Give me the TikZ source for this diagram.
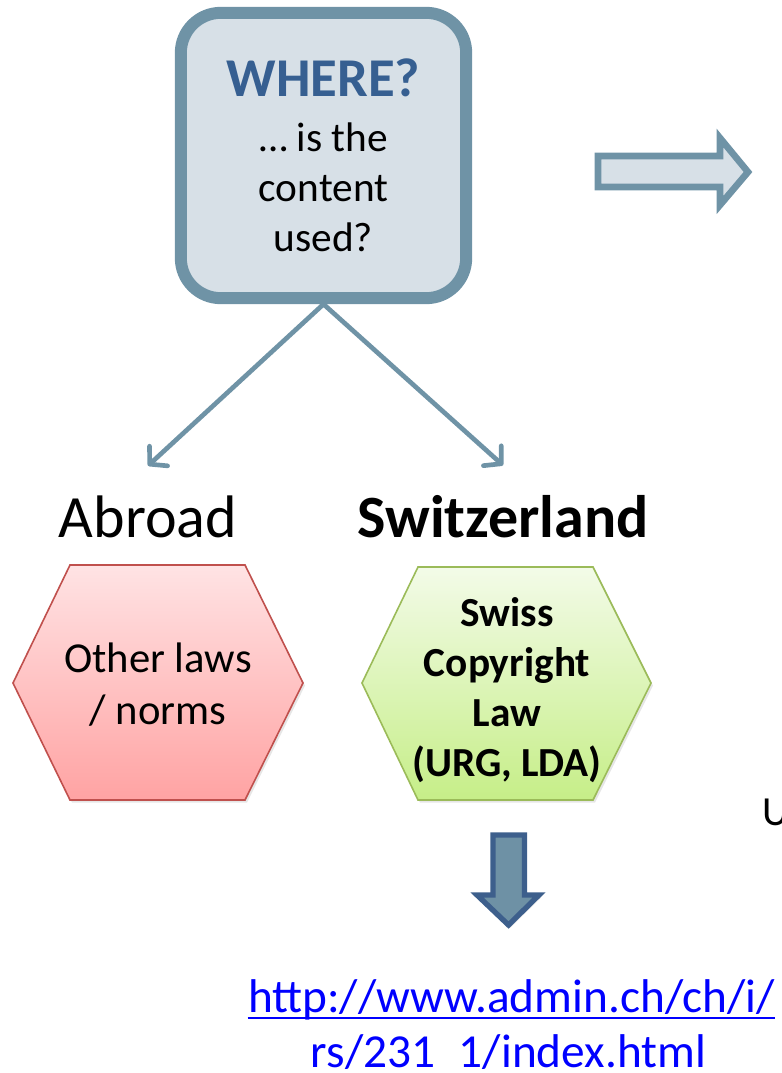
\documentclass[tikz,border=0pt]{standalone}
\usepackage{fontspec}
\setmainfont{Carlito}
\usepackage{tikz}
\usetikzlibrary{arrows.meta, shadows}

\definecolor{boxfill}{HTML}{D7E0E7}
\definecolor{boxline}{HTML}{6F93A6}
\definecolor{wheretext}{HTML}{365F91}
\definecolor{redtop}{HTML}{FFE3E4}
\definecolor{redbot}{HTML}{FFA3A3}
\definecolor{redline}{HTML}{C0504D}
\definecolor{greentop}{HTML}{F3FBE8}
\definecolor{greenbot}{HTML}{C6EE88}
\definecolor{greenline}{HTML}{9BBB59}
\definecolor{downfill}{HTML}{6E91A5}
\definecolor{downline}{HTML}{3D5F8C}
\definecolor{linkblue}{HTML}{0000FF}

\begin{document}
\begin{tikzpicture}[x=0.75pt, y=-0.75pt,
    question/.style={draw=boxline, fill=boxfill, line width=9pt, rounded corners=30pt,
      minimum width=214pt, minimum height=214pt, align=center, inner sep=0pt,
      font=\fontsize{31}{37.5}\selectfont},
    branch/.style={draw=boxline, line width=3.5pt, -{Straight Barb[length=9pt,width=20pt,round]}},
    place/.style={inner xsep=0pt, inner ysep=22pt, anchor=base, font=\fontsize{45}{54}\selectfont},
    lawtext/.style={align=center, inner sep=0pt, font=\fontsize{32}{39}\selectfont},
    softshadow/.style={drop shadow={opacity=0.2, shadow xshift=1.5pt, shadow yshift=-2pt}},
    blockarrow/.style={fill=boxfill, draw=boxline, line width=5pt, softshadow},
    link/.style={inner sep=0pt, anchor=base, text=linkblue, font=\fontsize{35.5}{42}\selectfont}]
  \useasboundingbox (0,0) rectangle (781,1073);

  \node[question] (where) at (323.5,155.5)
    {{\fontsize{41}{49}\selectfont\bfseries\color{wheretext}WHERE?}\\[3.5pt]
     … is the\\content\\used?};
  \path[blockarrow] (598,156) -- (720,156) -- (720,138) -- (748,172) -- (720,205)
    -- (720,187) -- (598,187) -- cycle;

  \node[place] (abroad) at (148,537) {Abroad};
  \node[place] (swiss) at (503,537) {\bfseries Switzerland};
  \draw[branch] (where.south) -- (abroad.north);
  \draw[branch] (where.south) -- (swiss.north);

  % hexagons
  \shade[softshadow, top color=redtop, bottom color=redbot, draw=redline, line width=1.2pt]
    (70,565) -- (245,565) -- (303,683) -- (245,800) -- (70,800) -- (13,683) -- cycle;
  \node[lawtext] (other) at (158,685) {Other laws\\/ norms};
  \shade[softshadow, top color=greentop, bottom color=greenbot, draw=greenline, line width=1.2pt]
    (418,567) -- (593,567) -- (651,683) -- (593,800) -- (418,800) -- (362,683) -- cycle;
  \node[lawtext, font=\fontsize{31}{37.5}\selectfont\bfseries] (urg) at (507,690)
    {Swiss\\Copyright\\Law\\(URG, LDA)};

  \path[blockarrow, fill=downfill, draw=downline, line width=4pt] (493,835) -- (524.5,835)
    -- (524.5,895) -- (539,895) -- (508.5,925) -- (477,895) -- (493,895) -- cycle;

  \node[inner sep=0pt, anchor=base west, font=\fontsize{31}{37.5}\selectfont] (cut) at (762,825) {U};

  \node[link] (link1) at (511.5,1012) {http://www.admin.ch/ch/i/};
  \node[link] (link2) at (508.5,1067) {rs/231\hspace{0.5em}1/index.html};
  \draw[linkblue, line width=1.5pt] ([yshift=-4.5pt]link1.base west) -- ([yshift=-4.5pt]link1.base east);
\end{tikzpicture}
\end{document}
